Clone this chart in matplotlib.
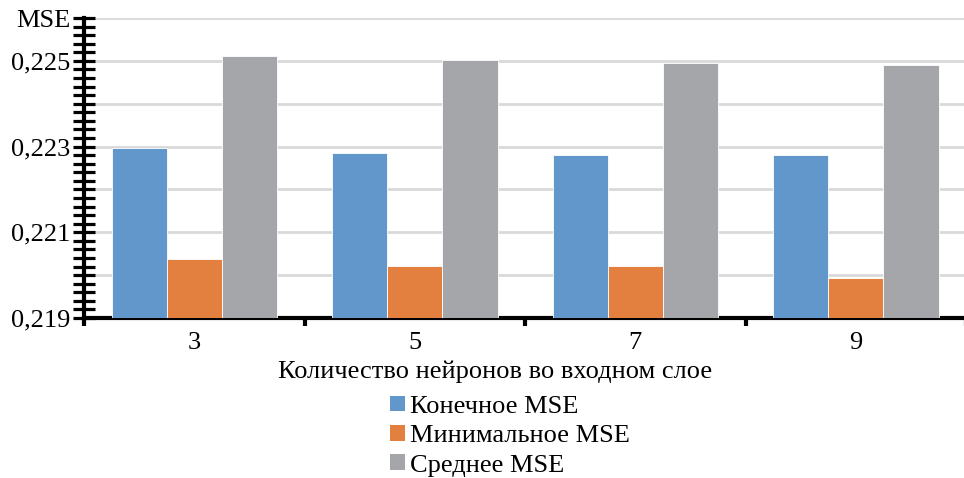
import numpy as np
import matplotlib.pyplot as plt
from matplotlib.ticker import MultipleLocator, FuncFormatter
from matplotlib.patches import Patch

plt.rcParams['font.family'] = 'serif'
plt.rcParams['font.serif'] = ['Liberation Serif', 'DejaVu Serif']

categories = ['3', '5', '7', '9']
final_mse = [0.22296, 0.22285, 0.22281, 0.22281]
min_mse = [0.22037, 0.22021, 0.22021, 0.21994]
mean_mse = [0.22512, 0.22503, 0.22496, 0.22491]
series_names = ['Конечное MSE', 'Минимальное MSE', 'Среднее MSE']
colors = ['#6197CA', '#E3803F', '#A5A6AA']

fig = plt.figure(figsize=(9.64, 4.78), dpi=100)
ax = fig.add_axes([0.0872, 0.3347, 0.915, 0.6276])

x = np.arange(len(categories))
w = 0.25
for i, (vals, c) in enumerate(zip([final_mse, min_mse, mean_mse], colors)):
    ax.bar(x + (i - 1) * w, vals, width=w, color=c, edgecolor='white',
           linewidth=0.6, zorder=3, label=series_names[i])

ax.set_ylim(0.219, 0.226)
ax.set_xlim(-0.5, 3.5)

ax.yaxis.set_major_locator(MultipleLocator(0.001))
ax.yaxis.set_minor_locator(MultipleLocator(0.0002))


def fmt(v, pos):
    k = int(round(v * 1000))
    if k == 226:
        return 'MSE'
    if k % 2 == 1:
        return ('%.3f' % v).replace('.', ',')
    return ''


ax.yaxis.set_major_formatter(FuncFormatter(fmt))
ax.grid(axis='y', color='#d9d9d9', linewidth=2, zorder=0)

ax.set_xticks(x)
ax.set_xticklabels(categories)
ax.set_xticks(np.arange(-0.5, 3.6, 0.5), minor=True)

for s in ['top', 'right']:
    ax.spines[s].set_visible(False)
ax.spines['left'].set_linewidth(3)
ax.spines['bottom'].set_linewidth(3)
ax.spines['left'].set_zorder(5)

ax.tick_params(axis='y', which='both', direction='inout', length=16, width=2.3,
               labelsize=19, pad=2)
ax.tick_params(axis='x', which='major', length=0, labelsize=19, pad=10)
ax.tick_params(axis='x', which='minor', direction='out', length=6, width=3)

ax.set_xlabel('Количество нейронов во входном слое', fontsize=19, labelpad=1)
ax.xaxis.set_label_coords(0.466, -0.14)

handles = [Patch(facecolor=c, edgecolor='none') for c in colors]
fig.legend(handles, series_names, loc='upper center', bbox_to_anchor=(0.529, 0.2),
           ncol=1, frameon=False, fontsize=19, handlelength=0.55, handleheight=0.55,
           handletextpad=0.2, labelspacing=0.27, borderpad=0)

fig.savefig('out.png', dpi=100)
